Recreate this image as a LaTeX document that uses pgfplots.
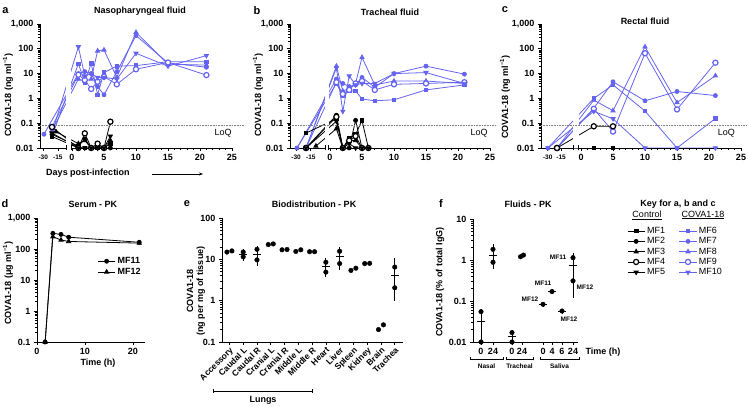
\documentclass[border=0pt]{standalone}
\usepackage{fontspec}
\setmainfont{Liberation Sans}
\usepackage{pgfplots}
\pgfplotsset{compat=1.18}
\usetikzlibrary{arrows.meta}
\definecolor{cova}{RGB}{100,100,240}
\newcommand\fs[1]{\fontsize{#1}{#1}\selectfont}
\newcommand\st[1]{{\fs{6.5}#1}}
\pgfplotsset{
 every axis/.append style={scale only axis, clip=false,
   axis line style={line width=0.9pt,-},
   tick style={black, line width=0.7pt},
   major tick length=3pt, minor tick length=1.6pt, tick align=outside,
   tick label style={font=\bfseries\fs{9}}},
}
\tikzset{
 ctl/.style={black, line width=0.8pt},
 cov/.style={cova, line width=0.8pt},
 msq/.style={mark=square*, mark size=1.8pt, mark options={solid}},
 mci/.style={mark=*, mark size=2pt, mark options={solid}},
 mtr/.style={mark=triangle*, mark size=2.4pt, mark options={solid}},
 mop/.style={mark=*, mark size=2.6pt, mark options={solid, fill=white, line width=1.2pt}},
 miv/.style={mark=triangle*, mark size=2.4pt, mark options={solid, rotate=180}},
 loq/.style={gray, densely dotted, line width=0.6pt},
 brk/.style={line width=0.7pt},
}
\begin{document}
\begin{tikzpicture}
\path[use as bounding box] (0,0) rectangle (748pt,407pt);

% ================= a: Nasopharyngeal fluid =================
\begin{axis}[anchor=south west, at={(40pt,259pt)}, width=204.8pt, height=124pt,
  ymode=log, ymin=0.01, ymax=1000, xmin=-5, xmax=27,
  axis y line*=left, axis x line*=bottom, x axis line style={draw=none},
  ytick={0.01,0.1,1,10,100,1000}, yticklabels={0.01,0.1,1,10,100,{1,000}},
  minor xtick={1,2,3,4,6,7,8,9,11,12,13,14,16,17,18,19,21,22,23,24},
  xtick={-4.5,-2.2,0,5,10,15,20,25},
  xticklabels={\st{-30},\st{-15},0,5,10,15,20,25}]
% COVA1-18 (pre-infection samples at compressed positions left of the break)
\addplot[cov,msq] coordinates {(-3.125,0.03)(1,25)(2,4.5)(3,26)(4,1.4)(5,11)(7,20)(10,21)(15,30)(21,30)};
\addplot[cov,mci] coordinates {(-4.375,0.036)(1,10)(2,12)(3,10)(4,3)(5,1.4)(7,12)(10,340)(15,27)(21,18)};
\addplot[cov,mtr] coordinates {(-3.125,0.05)(1,6)(2,5)(3,6)(4,82)(5,90)(7,7)(10,460)(15,24)(21,22)};
\addplot[cov,mop] coordinates {(-3.125,0.07)(1,9)(2,5.5)(3,2.4)(4,4.7)(5,7.5)(7,3.7)(10,15)(15,28)(21,8.7)};
\addplot[cov,miv] coordinates {(-3.125,0.04)(1,120)(2,8)(3,10)(4,7)(5,7)(7,6)(10,66)(15,20)(21,53)};
% Control
\addplot[ctl,msq] coordinates {(-3.125,0.029)(1,0.01)(2,0.01)(3,0.01)(4,0.01)(5,0.01)(6,0.015)};
\addplot[ctl,mci] coordinates {(-3.125,0.035)(1,0.012)(2,0.023)(3,0.01)(4,0.01)(5,0.01)(6,0.01)};
\addplot[ctl,mtr] coordinates {(-2.5,0.045)(1,0.015)(2,0.02)(3,0.01)(4,0.012)(5,0.01)(6,0.02)};
\addplot[ctl,mop] coordinates {(-3.125,0.07)(1,0.01)(2,0.039)(3,0.01)(4,0.015)(5,0.01)(6,0.115)};
\addplot[ctl,miv] coordinates {(-3.125,0.04)(1,0.01)(2,0.01)(3,0.01)(4,0.01)(5,0.01)(6,0.03)};
\fill[white] (axis cs:-0.95,0.0105) rectangle (axis cs:-0.15,800);
\addplot[loq, forget plot] coordinates {(-5,0.085)(27,0.085)};
\draw[line width=0.9pt] (axis cs:-5,0.01) -- (axis cs:-0.95,0.01);
\draw[line width=0.9pt] (axis cs:-0.15,0.01) -- (axis cs:25,0.01);
\draw[brk] ([yshift=-2.5pt]axis cs:-0.95,0.01) -- ([yshift=2.5pt]axis cs:-0.95,0.01);
\draw[brk] ([yshift=-2.5pt]axis cs:-0.15,0.01) -- ([yshift=2.5pt]axis cs:-0.15,0.01);
\node[anchor=east, font=\fs{9}] at (axis cs:25.5,0.04) {LoQ};
\end{axis}

% ================= b: Tracheal fluid =================
\begin{axis}[anchor=south west, at={(290pt,259pt)}, width=206.4pt, height=124pt,
  ymode=log, ymin=0.01, ymax=1000, xmin=-6.25, xmax=26,
  axis y line*=left, axis x line*=bottom, x axis line style={draw=none},
  ytick={0.01,0.1,1,10,100,1000}, yticklabels={0.01,0.1,1,10,100,{1,000}},
  minor xtick={1,2,3,4,6,7,8,9,11,12,13,14,16,17,18,19,21,22,23,24},
  xtick={-5.3,-3.0,0,5,10,15,20,25},
  xticklabels={\st{-30},\st{-15},0,5,10,15,20,25}]
\addplot[cov,msq] coordinates {(-5.16,0.01)(1,4)(2,1.3)(3,2)(4,2)(5,0.95)(7,0.8)(10,0.88)(15,2.2)(21,3.5)};
\addplot[cov,mci] coordinates {(-5.16,0.01)(1,6)(2,4)(3,3)(4,3.5)(5,7)(7,2.8)(10,10)(15,20)(21,9.5)};
\addplot[cov,mtr] coordinates {(-3.75,0.01)(1,20)(2,2)(3,2.5)(4,4)(5,45)(7,3.5)(10,5)(15,5)(21,4)};
\addplot[cov,mop] coordinates {(-3.75,0.01)(1,4.5)(2,1.5)(3,2.2)(4,4)(5,5)(7,2.2)(10,3.7)(15,4)(21,4.5)};
\addplot[cov,miv] coordinates {(-3.75,0.01)(1,17)(2,0.3)(3,8)(4,3.5)(5,4)(7,4)(10,10)(15,11)(21,4)};
\addplot[ctl,msq] coordinates {(-3.75,0.04)(1,0.15)(2,0.01)(3,0.025)(4,0.035)(5,0.13)(6,0.01)};
\addplot[ctl,mci] coordinates {(-3.75,0.01)(1,0.21)(2,0.01)(3,0.01)(4,0.13)(5,0.01)(6,0.01)};
\addplot[ctl,mtr] coordinates {(-2.2,0.012)(1,0.06)(2,0.01)(3,0.02)(4,0.02)(5,0.01)(6,0.01)};
\addplot[ctl,mop] coordinates {(-3.75,0.01)(1,0.18)(2,0.01)(3,0.02)(4,0.03)(5,0.01)(6,0.01)};
\addplot[ctl,miv] coordinates {(-3.75,0.01)(1,0.12)(2,0.01)(3,0.015)(4,0.01)(5,0.01)(6,0.01)};
\fill[white] (axis cs:-0.8,0.0105) rectangle (axis cs:-0.2,800);
\addplot[loq, forget plot] coordinates {(-6.25,0.085)(26,0.085)};
\draw[line width=0.9pt] (axis cs:-6.25,0.01) -- (axis cs:-0.8,0.01);
\draw[line width=0.9pt] (axis cs:-0.2,0.01) -- (axis cs:25,0.01);
\draw[brk] ([yshift=-2.5pt]axis cs:-0.8,0.01) -- ([yshift=2.5pt]axis cs:-0.8,0.01);
\draw[brk] ([yshift=-2.5pt]axis cs:-0.2,0.01) -- ([yshift=2.5pt]axis cs:-0.2,0.01);
\node[anchor=east, font=\fs{9}] at (axis cs:25.2,0.04) {LoQ};
\end{axis}

% ================= c: Rectal fluid =================
\begin{axis}[anchor=south west, at={(541pt,259pt)}, width=206.4pt, height=124pt,
  ymode=log, ymin=0.01, ymax=1000, xmin=-6.25, xmax=26,
  axis y line*=left, axis x line*=bottom, x axis line style={draw=none},
  ytick={0.01,0.1,1,10,100,1000}, yticklabels={0.01,0.1,1,10,100,{1,000}},
  minor xtick={1,2,3,4,6,7,8,9,11,12,13,14,16,17,18,19,21,22,23,24},
  xtick={-5.2,-3.1,0,5,10,15,20,25},
  xticklabels={\st{-30},\st{-15},0,5,10,15,20,25}]
\addplot[cov,msq] coordinates {(-5.16,0.01)(2,1.0)(5,3.5)(10,0.31)(15,0.01)(21,0.155)};
\addplot[cov,mci] coordinates {(-3.75,0.01)(2,0.4)(5,4.7)(10,0.8)(15,1.9)(21,1.3)};
\addplot[cov,mtr] coordinates {(-3.75,0.01)(2,0.85)(5,0.32)(10,120)(15,0.68)(21,8.2)};
\addplot[cov,mop] coordinates {(-3.75,0.01)(2,0.38)(5,0.046)(10,66)(15,0.36)(21,27.5)};
\addplot[cov,miv] coordinates {(-5.16,0.01)(2,0.3)(5,0.15)(10,0.01)(15,0.01)(21,0.01)};
\addplot[ctl,msq] coordinates {(-3.75,0.01)(2,0.01)(5,0.01)};
\addplot[ctl,mtr] coordinates {(-3.75,0.01)};
\addplot[ctl,miv] coordinates {(-3.75,0.01)};
\addplot[ctl,mci, mark size=2.7pt] coordinates {(-3.75,0.01)};
\addplot[ctl,mop] coordinates {(-3.75,0.01)(2,0.075)(5,0.075)};
\fill[white] (axis cs:-1.25,0.0105) rectangle (axis cs:-0.35,800);
\addplot[loq, forget plot] coordinates {(-6.25,0.085)(26,0.085)};
\draw[line width=0.9pt] (axis cs:-6.25,0.01) -- (axis cs:-1.25,0.01);
\draw[line width=0.9pt] (axis cs:-0.35,0.01) -- (axis cs:25,0.01);
\draw[brk] ([yshift=-2.5pt]axis cs:-1.25,0.01) -- ([yshift=2.5pt]axis cs:-1.25,0.01);
\draw[brk] ([yshift=-2.5pt]axis cs:-0.35,0.01) -- ([yshift=2.5pt]axis cs:-0.35,0.01);
\node[anchor=east, font=\fs{9}] at (axis cs:24.6,0.04) {LoQ};
\end{axis}

% ================= d: Serum - PK =================
\begin{axis}[anchor=south west, at={(37pt,65pt)}, width=108pt, height=124pt,
  ymode=log, ymin=0.1, ymax=1000, xmin=0, xmax=22.5,
  axis lines*=left,
  ytick={0.1,1,10,100,1000}, yticklabels={0.1,1,10,100,{1,000}},
  xtick={0,10,20}, xticklabels={0,10,20},
  legend cell align=left,
  legend style={at={(0.56,0.70)}, anchor=north west, draw=none, fill=none,
    font=\bfseries\fs{9}, row sep=-1pt, inner sep=0pt}]
\addplot[ctl,mci] coordinates {(1.7,0.1)(3.3,320)(5,296)(6.6,240)(21.3,165)};
\addlegendentry{MF11}
\addplot[ctl,mtr] coordinates {(1.7,0.1)(3.3,250)(5,195)(6.6,175)(21.3,155)};
\addlegendentry{MF12}
\end{axis}

% ================= e: Biodistribution - PK =================
\begin{axis}[anchor=south west, at={(222pt,65pt)}, width=181pt, height=124pt,
  ymode=log, ymin=0.1, ymax=100, xmin=-0.54, xmax=12.6,
  axis lines*=left,
  ytick={0.1,1,10,100}, yticklabels={0.1,1,10,100},
  xtick={0,1,2,3,4,5,6,7,8,9,10,11,12},
  xticklabels={Accessory,Caudal L,Caudal R,Cranial L,Cranial R,Middle L,Middle R,Heart,Liver,Spleen,Kidney,Brain,Trachea},
  xticklabel style={rotate=45, anchor=north east, inner sep=1pt, font=\bfseries\fs{8.5}}]
\addplot[only marks, black, mark=*, mark size=2.3pt] coordinates {
 (-0.18,15)(0.18,16) (1,15)(1,11.5) (2,17.5)(2,9.7) (2.82,22.8)(3.18,23.6)
 (3.82,17)(4.18,17.3) (4.82,15.5)(5.18,17) (5.82,15.3)(6.18,15.3)
 (7,8.5)(7,4.9) (8,15.7)(8,7.9) (8.82,5.4)(9.18,6.1) (9.82,7.9)(10.18,8.0)
 (10.82,0.2)(11.18,0.26) (12,6.5)(12,2.05)};
\addplot[only marks, black, mark=-, mark size=4pt, mark options={line width=1pt},
  error bars/.cd, y dir=both, y explicit, error mark=-,
  error mark options={black, mark size=2.5pt, line width=0.8pt},
  error bar style={line width=0.8pt}] coordinates {
 (1,13) +- (0,2.5)
 (2,13) +- (0,5)
 (7,6.7) +- (0,2.5)
 (8,11.8) +- (0,5.5)
 (12,4.1) += (0,5.4) -= (0,2.96)};
\end{axis}

% ================= f: Fluids - PK =================
\begin{axis}[anchor=south west, at={(473pt,65pt)}, width=105pt, height=123pt,
  ymode=log, ymin=0.01, ymax=10, xmin=0, xmax=105,
  axis lines*=left,
  ytick={0.01,0.1,1,10}, yticklabels={0.01,0.1,1,10},
  xtick={8,20,39,49,70,79,89,100}, xticklabels={0,24,0,24,0,4,6,24}]
\addplot[only marks, black, mark=*, mark size=2.3pt] coordinates {
 (8,0.055)(8,0.01)(20,1.82)(20,0.88)(39,0.017)(39,0.01)(47.5,1.2)(50.5,1.32)
 (70,0.083)(79,0.17)(89,0.057)(100,1.14)(100,0.31)};
\addplot[only marks, black, mark=-, mark size=4pt, mark options={line width=1pt},
  error bars/.cd, y dir=both, y explicit, error mark=-,
  error mark options={black, mark size=2.5pt, line width=0.8pt},
  error bar style={line width=0.8pt}] coordinates {
 (8,0.032) += (0,0.023) -= (0,0.022)
 (20,1.32) += (0,0.78) -= (0,0.61)
 (39,0.0135) +- (0,0.0035)
 (70,0.083) +- (0,0)
 (79,0.17) +- (0,0)
 (89,0.057) +- (0,0)
 (100,0.72) +- (0,0.58)};
\end{axis}

% ================= key =================
\begin{axis}[hide axis, anchor=south west, at={(627pt,181pt)}, width=1pt, height=1pt,
  xmin=0, xmax=1, ymin=0, ymax=1,
  legend columns=2, legend cell align=left,
  legend style={at={(0,1)}, anchor=north west, draw=none, fill=none,
    font=\fs{9}, inner sep=0pt, row sep=-1.5pt,
    /tikz/every even column/.append style={column sep=12pt}}]
\addlegendimage{ctl,msq}\addlegendentry{MF1}
\addlegendimage{cov,msq}\addlegendentry{MF6}
\addlegendimage{ctl,mci}\addlegendentry{MF2}
\addlegendimage{cov,mci}\addlegendentry{MF7}
\addlegendimage{ctl,mtr}\addlegendentry{MF3}
\addlegendimage{cov,mtr}\addlegendentry{MF8}
\addlegendimage{ctl,mop}\addlegendentry{MF4}
\addlegendimage{cov,mop}\addlegendentry{MF9}
\addlegendimage{ctl,miv}\addlegendentry{MF5}
\addlegendimage{cov,miv}\addlegendentry{MF10}
\end{axis}

% ================= texts =================
\node[font=\bfseries\fs{11}] at (5.5pt,396pt) {a};
\node[font=\bfseries\fs{9}] at (140pt,396pt) {Nasopharyngeal fluid};
\node[font=\bfseries\fs{11}] at (257pt,396pt) {b};
\node[font=\bfseries\fs{9}] at (390pt,395pt) {Tracheal fluid};
\node[font=\bfseries\fs{11}] at (505pt,397pt) {c};
\node[font=\bfseries\fs{9}] at (645pt,386pt) {Rectal fluid};
\node[rotate=90, font=\bfseries\fs{9}] at (8pt,312pt) {COVA1-18 (ng ml\textsuperscript{−1})};
\node[rotate=90, font=\bfseries\fs{9}] at (258pt,312pt) {COVA1-18 (ng ml\textsuperscript{−1})};
\node[rotate=90, font=\bfseries\fs{9}] at (505pt,310pt) {COVA1-18 (ng ml\textsuperscript{−1})};
\node[font=\bfseries\fs{9}] at (88pt,234pt) {Days post-infection};
\draw[-{Stealth[length=4pt]}, line width=0.8pt] (152pt,233pt) -- (203pt,233pt);

\node[font=\bfseries\fs{11}] at (5pt,203pt) {d};
\node[font=\bfseries\fs{9}] at (93pt,203pt) {Serum - PK};
\node[rotate=90, font=\bfseries\fs{9}] at (8pt,124pt) {COVA1-18 (μg ml\textsuperscript{−1})};
\node[font=\bfseries\fs{9}] at (98pt,44pt) {Time (h)};

\node[font=\bfseries\fs{11}] at (187pt,203pt) {e};
\node[font=\bfseries\fs{9}] at (314pt,203pt) {Biodistribution - PK};
\node[rotate=90, align=center, font=\bfseries\fs{9}] at (196pt,116pt) {COVA1-18\\[1pt](ng per mg of tissue)};
\draw[line width=0.7pt] (213pt,16pt) -- (312pt,16pt);
\draw[line width=0.7pt] (213pt,14pt) -- (213pt,18pt);
\draw[line width=0.7pt] (312pt,14pt) -- (312pt,18pt);
\node[font=\bfseries\fs{9}] at (263pt,7pt) {Lungs};

\node[font=\bfseries\fs{11}] at (441pt,203pt) {f};
\node[font=\bfseries\fs{9}] at (528pt,203pt) {Fluids - PK};
\node[rotate=90, font=\bfseries\fs{9}] at (440pt,125pt) {COVA1-18 (\% of total IgG)};
\node[anchor=west, font=\bfseries\fs{9}] at (582pt,55pt) {Time (h)};
\foreach \a/\b/\t in {470/503/Nasal, 506/533/Tracheal, 540/579/Saliva}{
  \draw[line width=0.6pt] (\a pt,48pt) -- (\b pt,48pt);
  \draw[line width=0.6pt] (\a pt,46.5pt) -- (\a pt,49.5pt);
  \draw[line width=0.6pt] (\b pt,46.5pt) -- (\b pt,49.5pt);
  \node[font=\bfseries\fs{6.5}] at ({(\a+\b)/2*1pt},41pt) {\t};
}
\node[font=\bfseries\fs{6.5}] at (558pt,150pt) {MF11};
\node[font=\bfseries\fs{6.5}] at (585pt,120pt) {MF12};
\node[font=\bfseries\fs{6.5}] at (543pt,124pt) {MF11};
\node[font=\bfseries\fs{6.5}] at (530pt,108pt) {MF12};
\node[font=\bfseries\fs{6.5}] at (569pt,88pt) {MF12};

\node[font=\bfseries\fs{9}] at (678pt,203pt) {Key for a, b and c};
\node[font=\fs{9}] at (647pt,192pt) {\underline{Control}};
\node[font=\fs{9}] at (703pt,192pt) {\underline{COVA1-18}};
\end{tikzpicture}
\end{document}
